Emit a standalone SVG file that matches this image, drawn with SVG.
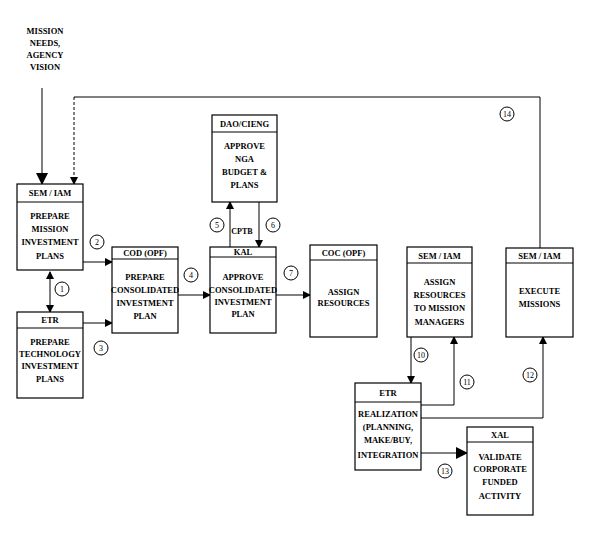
<svg xmlns="http://www.w3.org/2000/svg" width="594" height="541" viewBox="0 0 594 541">
<style>
.box{fill:#fff;stroke:#000;stroke-width:1.2}
.hd{stroke:#000;stroke-width:1.2}
.t{font-family:"Liberation Serif",serif;font-size:8.5px;font-weight:bold;fill:#000;text-anchor:middle}
.c{fill:#fff;stroke:#000;stroke-width:1}
.ln{fill:none;stroke:#000;stroke-width:1}
.n{font-family:"Liberation Serif",serif;font-size:8px;fill:#000;text-anchor:middle}
</style>
<defs>
<marker id="ah" markerWidth="8" markerHeight="8" refX="7" refY="4" orient="auto" markerUnits="userSpaceOnUse">
<path d="M0,0 L8,4 L0,8 Z" fill="#000"/>
</marker>
<marker id="ahb" markerWidth="12" markerHeight="12" refX="11" refY="6" orient="auto" markerUnits="userSpaceOnUse">
<path d="M0,0 L12,6 L0,12 Z" fill="#000"/>
</marker>
<marker id="ahs" markerWidth="8" markerHeight="8" refX="1" refY="4" orient="auto" markerUnits="userSpaceOnUse">
<path d="M8,0 L0,4 L8,8 Z" fill="#000"/>
</marker>
</defs>

<g id="source">
<text class="t" x="45" y="34">MISSION</text>
<text class="t" x="45" y="46">NEEDS,</text>
<text class="t" x="45" y="58">AGENCY</text>
<text class="t" x="45" y="70">VISION</text>
</g>

<g id="connectors">
<line class="ln" x1="42" y1="88" x2="42" y2="184" stroke-width="3" marker-end="url(#ahb)"/>
<polyline class="ln" points="540,248 540,97 74,97"/>
<line class="ln" x1="74" y1="97" x2="74" y2="184" stroke-dasharray="3,2" marker-end="url(#ah)"/>
<line class="ln" x1="83" y1="262" x2="112" y2="262" marker-end="url(#ah)"/>
<line class="ln" x1="50" y1="272" x2="50" y2="312" marker-start="url(#ahs)" marker-end="url(#ah)"/>
<line class="ln" x1="83" y1="323" x2="112" y2="323" marker-end="url(#ah)"/>
<line class="ln" x1="178" y1="295" x2="210" y2="295" marker-end="url(#ah)"/>
<line class="ln" x1="230" y1="247" x2="230" y2="202" marker-end="url(#ah)"/>
<line class="ln" x1="259" y1="202" x2="259" y2="247" marker-end="url(#ah)"/>
<line class="ln" x1="276" y1="295" x2="310" y2="295" marker-end="url(#ah)"/>
<line class="ln" x1="411" y1="337" x2="411" y2="383" marker-end="url(#ah)"/>
<polyline class="ln" points="421,405 454,405 454,337" marker-end="url(#ah)"/>
<polyline class="ln" points="421,418 543,418 543,337" marker-end="url(#ah)"/>
<line class="ln" x1="421" y1="453" x2="467" y2="453" marker-end="url(#ahb)"/>
<text class="n" x="242" y="234" font-weight="bold">CPTB</text>
<g>
<circle class="c" cx="507" cy="114" r="7"/><text class="n" x="507" y="117">14</text>
<circle class="c" cx="97" cy="242" r="7"/><text class="n" x="97" y="245">2</text>
<circle class="c" cx="62" cy="289" r="7"/><text class="n" x="62" y="292">1</text>
<circle class="c" cx="101" cy="348" r="7"/><text class="n" x="101" y="351">3</text>
<circle class="c" cx="191" cy="275" r="7"/><text class="n" x="191" y="278">4</text>
<circle class="c" cx="217" cy="225" r="7"/><text class="n" x="217" y="228">5</text>
<circle class="c" cx="273" cy="225" r="7"/><text class="n" x="273" y="228">6</text>
<circle class="c" cx="291" cy="273" r="7"/><text class="n" x="291" y="276">7</text>
<circle class="c" cx="421" cy="355" r="7"/><text class="n" x="421" y="358">10</text>
<circle class="c" cx="467" cy="382" r="7"/><text class="n" x="467" y="385">11</text>
<circle class="c" cx="530" cy="375" r="7"/><text class="n" x="530" y="378">12</text>
<circle class="c" cx="445" cy="471" r="7"/><text class="n" x="445" y="474">13</text>
</g>
</g>

<g id="prepare-mission">
<rect class="box" x="17" y="184" width="66" height="86"/>
<line class="hd" x1="17" y1="202" x2="83" y2="202"/>
<text class="t" x="50" y="196">SEM / IAM</text>
<text class="t" x="50" y="219">PREPARE</text>
<text class="t" x="50" y="232">MISSION</text>
<text class="t" x="50" y="245">INVESTMENT</text>
<text class="t" x="50" y="259">PLANS</text>
</g>

<g id="prepare-tech">
<rect class="box" x="17" y="312" width="66" height="86"/>
<line class="hd" x1="17" y1="328" x2="83" y2="328"/>
<text class="t" x="50" y="323">ETR</text>
<text class="t" x="50" y="345">PREPARE</text>
<text class="t" x="50" y="357">TECHNOLOGY</text>
<text class="t" x="50" y="369">INVESTMENT</text>
<text class="t" x="50" y="382">PLANS</text>
</g>

<g id="consolidated">
<rect class="box" x="112" y="247" width="66" height="86"/>
<line class="hd" x1="112" y1="259" x2="178" y2="259"/>
<text class="t" x="145" y="256">COD (OPF)</text>
<text class="t" x="145" y="280">PREPARE</text>
<text class="t" x="145" y="293">CONSOLIDATED</text>
<text class="t" x="145" y="306">INVESTMENT</text>
<text class="t" x="145" y="319">PLAN</text>
</g>

<g id="approve-nsa">
<rect class="box" x="212" y="115" width="65" height="87"/>
<line class="hd" x1="212" y1="132" x2="277" y2="132"/>
<text class="t" x="244.500" y="127">DAO/CIENG</text>
<text class="t" x="244.500" y="149">APPROVE</text>
<text class="t" x="244.500" y="162">NGA</text>
<text class="t" x="244.500" y="175">BUDGET &amp;</text>
<text class="t" x="244.500" y="188">PLANS</text>
</g>

<g id="approve-consolidated">
<rect class="box" x="210" y="247" width="66" height="86"/>
<line class="hd" x1="210" y1="257" x2="276" y2="257"/>
<text class="t" x="243" y="255">KAL</text>
<text class="t" x="243" y="280">APPROVE</text>
<text class="t" x="243" y="293">CONSOLIDATED</text>
<text class="t" x="243" y="305">INVESTMENT</text>
<text class="t" x="243" y="317">PLAN</text>
</g>

<g id="assign-resources">
<rect class="box" x="310" y="245" width="67" height="92"/>
<line class="hd" x1="310" y1="260" x2="377" y2="260"/>
<text class="t" x="343.500" y="256">COC (OPF)</text>
<text class="t" x="343.500" y="295">ASSIGN</text>
<text class="t" x="343.500" y="306">RESOURCES</text>
</g>

<g id="assign-managers">
<rect class="box" x="407" y="247" width="65" height="90"/>
<line class="hd" x1="407" y1="263" x2="472" y2="263"/>
<text class="t" x="439.500" y="259">SEM / IAM</text>
<text class="t" x="439.500" y="285">ASSIGN</text>
<text class="t" x="439.500" y="298">RESOURCES</text>
<text class="t" x="439.500" y="311">TO MISSION</text>
<text class="t" x="439.500" y="325">MANAGERS</text>
</g>

<g id="execute">
<rect class="box" x="506" y="248" width="67" height="89"/>
<line class="hd" x1="506" y1="263" x2="573" y2="263"/>
<text class="t" x="539.500" y="259">SEM / IAM</text>
<text class="t" x="539.500" y="294">EXECUTE</text>
<text class="t" x="539.500" y="307">MISSIONS</text>
</g>

<g id="realization">
<rect class="box" x="355" y="383" width="66" height="87"/>
<line class="hd" x1="355" y1="402" x2="421" y2="402"/>
<text class="t" x="388" y="396">ETR</text>
<text class="t" x="388" y="417">REALIZATION</text>
<text class="t" x="388" y="430">(PLANNING,</text>
<text class="t" x="388" y="443">MAKE/BUY,</text>
<text class="t" x="388" y="458">INTEGRATION</text>
</g>

<g id="validate">
<rect class="box" x="467" y="427" width="66" height="88"/>
<line class="hd" x1="467" y1="442" x2="533" y2="442"/>
<text class="t" x="500" y="438">XAL</text>
<text class="t" x="500" y="460">VALIDATE</text>
<text class="t" x="500" y="472">CORPORATE</text>
<text class="t" x="500" y="485">FUNDED</text>
<text class="t" x="500" y="499">ACTIVITY</text>
</g>
</svg>
